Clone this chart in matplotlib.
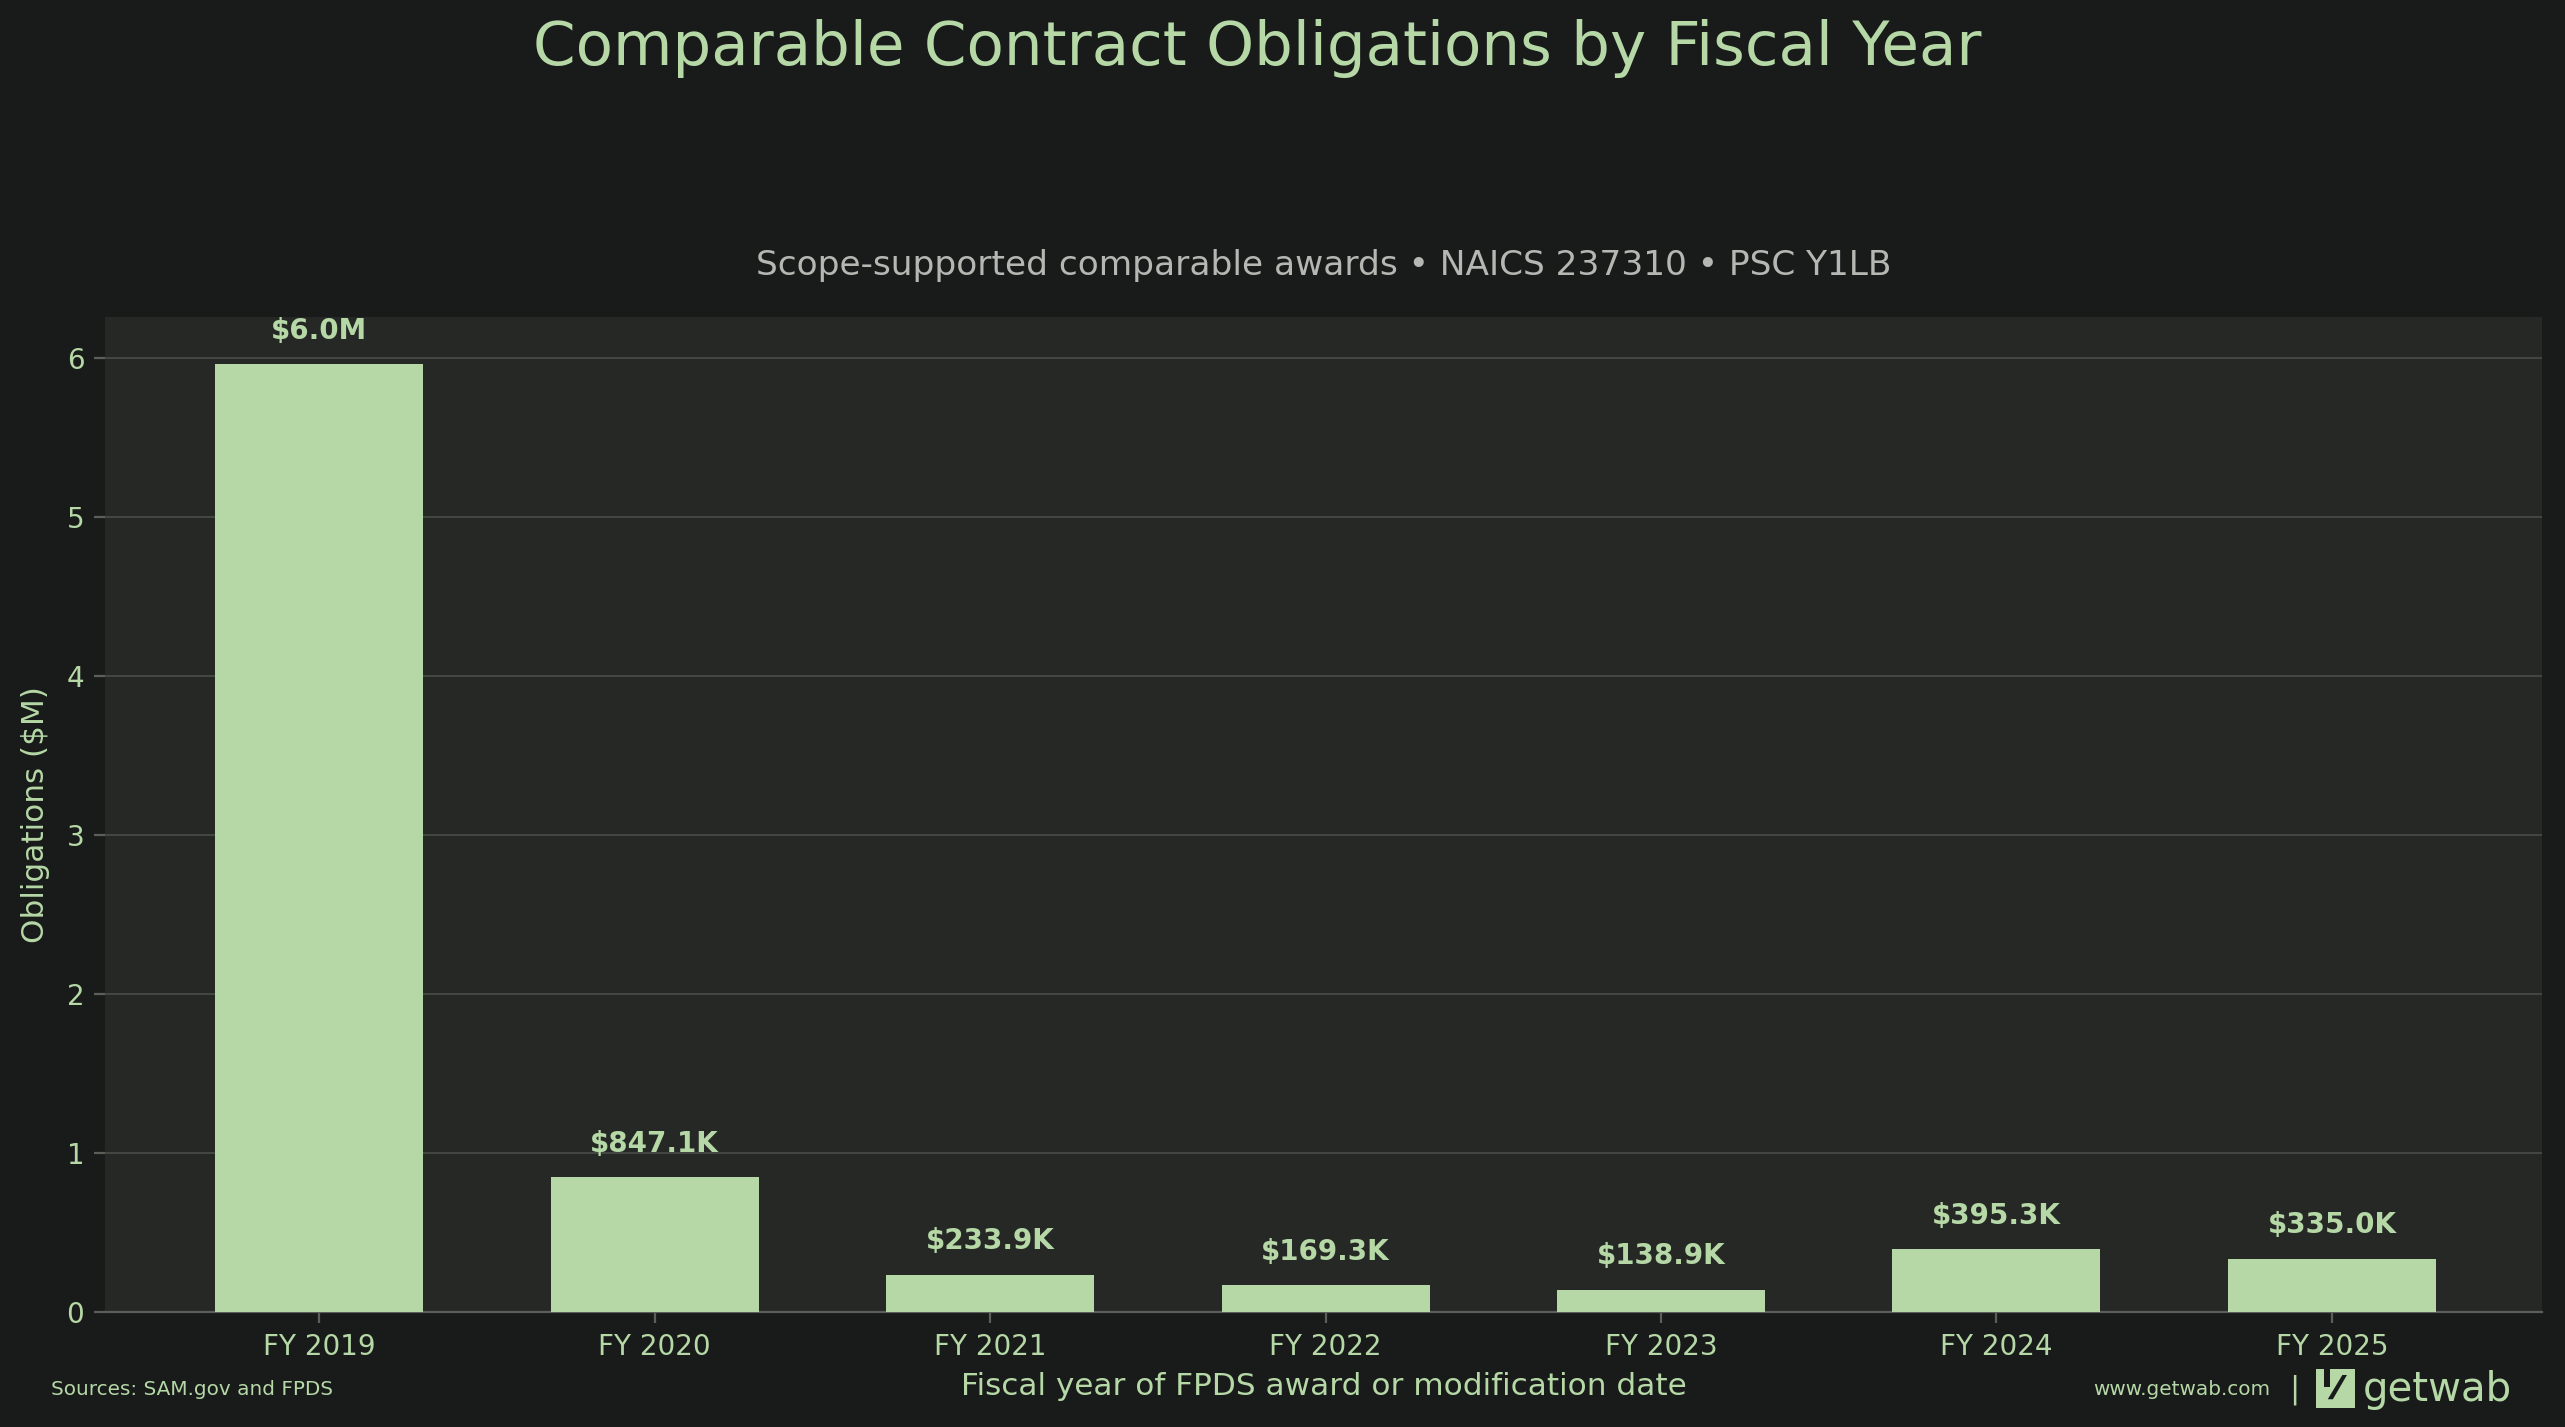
import numpy as np
import matplotlib
matplotlib.use("Agg")
import matplotlib.pyplot as plt
from matplotlib.patches import Rectangle, Polygon

# data
years = ["FY 2019", "FY 2020", "FY 2021", "FY 2022", "FY 2023", "FY 2024", "FY 2025"]
obligations = [5.96, 0.8471, 0.2339, 0.1693, 0.1389, 0.3953, 0.3350]  # $M
bar_labels = ["$6.0M", "$847.1K", "$233.9K", "$169.3K", "$138.9K", "$395.3K", "$335.0K"]
yticks = [0, 1, 2, 3, 4, 5, 6]

bg = "#191b1a"
face = "#262826"
green = "#b5d8a6"
grid_c = "#434843"
sub_c = "#b3b8b3"

plt.rcParams['font.family'] = ['DejaVu Sans']

fig = plt.figure(figsize=(12.825, 7.135), dpi=200, facecolor=bg)
ax = fig.add_axes([0.041, 0.0806, 0.95, 0.6974])
ax.set_facecolor(face)

x = np.arange(len(years))
ax.bar(x, obligations, width=0.62, color=green, zorder=3)

# value labels above each bar
for xi, v, lab in zip(x, obligations, bar_labels):
    ax.annotate(lab.replace("$", r"\$"), (xi, v), xytext=(0, 7), textcoords="offset points",
                ha="center", va="bottom", fontsize=10, fontweight="bold", color=green)

ax.set_xlim(-0.638, 6.626)
ax.set_ylim(0, max(obligations) * 1.05)
ax.set_xticks(x)
ax.set_xticklabels(years)
ax.set_yticks(yticks)
ax.tick_params(labelsize=10, length=4, width=0.8)
ax.tick_params(axis="x", colors="#5a5f5a", labelcolor=green)
ax.tick_params(axis="y", colors="#5a5f5a", labelcolor=green)
ax.grid(axis="y", color=grid_c, linewidth=0.7, zorder=0)
for side in ["top", "right", "left"]:
    ax.spines[side].set_visible(False)
ax.spines["bottom"].set_color("#5a5f5a")
ax.spines["bottom"].set_linewidth(0.8)

ax.set_ylabel("Obligations ($M)", color=green, fontsize=11.2, labelpad=6)
ax.set_xlabel("Fiscal year of FPDS award or modification date", color=green, fontsize=11.2, labelpad=4)
ax.set_title("Scope-supported comparable awards \u2022 NAICS 237310 \u2022 PSC Y1LB",
             color=sub_c, fontsize=12.4, pad=15)

fig.suptitle("Comparable Contract Obligations by Fiscal Year", x=0.49, y=0.987,
             color=green, fontsize=22)

# footer
fig.text(0.02, 0.026, "Sources: SAM.gov and FPDS", color=green, fontsize=7.2, va="center")
fig.text(0.885, 0.026, "www.getwab.com", color=green, fontsize=7.2, va="center", ha="right")
fig.text(0.8945, 0.026, "|", color=green, fontsize=11, va="center", ha="center")

# rough logo: square mark with a diagonal cut, then the wordmark
lx, ly, lw, lh = 0.903, 0.0135, 0.0150, 0.027
fig.patches.append(Rectangle((lx, ly), lw, lh, transform=fig.transFigure,
                             facecolor=green, edgecolor="none"))
fig.patches.append(Rectangle((lx + 0.003, ly + lh * 0.55), 0.0022, lh * 0.45,
                             transform=fig.transFigure, facecolor=bg, edgecolor="none"))
fig.patches.append(Polygon([(lx + 0.0045, ly + lh * 0.22), (lx + 0.0065, ly + lh * 0.22),
                            (lx + lw * 0.8, ly + lh * 0.85), (lx + lw * 0.68, ly + lh * 0.85)],
                           closed=True, transform=fig.transFigure, facecolor=bg, edgecolor="none"))
fig.text(0.921, 0.026, "getwab", color=green, fontsize=14.5, va="center", ha="left")

fig.savefig("out.png", dpi=200, facecolor=bg)
